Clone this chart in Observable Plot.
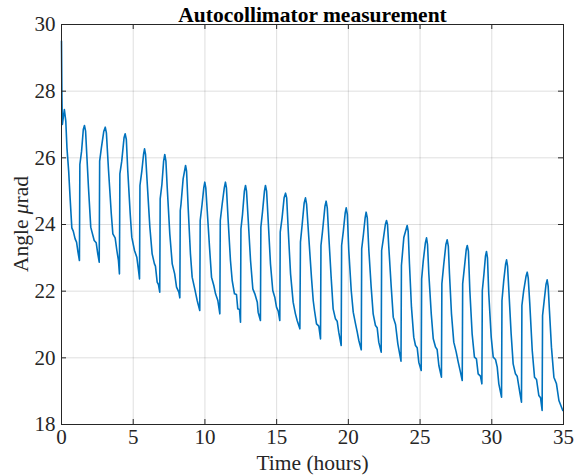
<!DOCTYPE html>
<html>
<head>
<meta charset="utf-8">
<script src="https://cdn.jsdelivr.net/npm/d3@7"></script>
<script src="https://cdn.jsdelivr.net/npm/@observablehq/plot@0.6"></script>
<style>
  html, body { margin: 0; padding: 0; background: #fff; }
</style>
</head>
<body>
<div id="chart"></div>
<script>
const titleText = "Autocollimator measurement";
const xLabel = "Time (hours)";
const yLabelPrefix = "Angle ";
const yLabelSymbol = "\u03bc";
const yLabelUnit = "rad";
const xTicks = [0, 5, 10, 15, 20, 25, 30, 35];
const yTicks = [18, 20, 22, 24, 26, 28, 30];

const times = [
0, 0.03, 0.06, 0.12, 0.2, 0.3, 0.38, 0.5, 0.6, 0.72, 0.82, 0.95, 1.05, 1.15, 1.25,
1.28, 1.4, 1.52, 1.6, 1.68, 1.76, 1.88, 2.04, 2.11, 2.28, 2.42, 2.53, 2.63,
2.66, 2.78, 2.95, 3.05, 3.13, 3.28, 3.47, 3.58, 3.74, 3.86, 3.97, 4.04,
4.07, 4.2, 4.36, 4.44, 4.52, 4.62, 4.79, 4.9, 5.09, 5.25, 5.37, 5.44,
5.47, 5.6, 5.72, 5.79, 5.86, 5.98, 6.16, 6.32, 6.48, 6.55, 6.67, 6.76, 6.85,
6.88, 7.0, 7.12, 7.2, 7.28, 7.37, 7.55, 7.72, 7.89, 8.02, 8.18, 8.25,
8.28, 8.33, 8.48, 8.65, 8.72, 8.83, 8.99, 9.11, 9.29, 9.46, 9.64,
9.67, 9.8, 9.92, 9.99, 10.06, 10.16, 10.32, 10.46, 10.62, 10.74, 10.9, 11.04,
11.07, 11.2, 11.35, 11.43, 11.5, 11.62, 11.78, 11.9, 12.06, 12.2, 12.29, 12.41, 12.48,
12.51, 12.62, 12.75, 12.83, 12.9, 13.02, 13.18, 13.34, 13.48, 13.65, 13.71, 13.87,
13.9, 14.02, 14.15, 14.22, 14.3, 14.41, 14.57, 14.73, 14.87, 14.99, 15.11, 15.22,
15.25, 15.38, 15.52, 15.62, 15.7, 15.81, 15.97, 16.15, 16.31, 16.43, 16.62,
16.66, 16.78, 16.92, 17.01, 17.09, 17.24, 17.43, 17.55, 17.64, 17.78, 17.94, 18.06,
18.09, 18.2, 18.37, 18.45, 18.53, 18.64, 18.8, 18.94, 19.1, 19.22, 19.33, 19.5,
19.53, 19.65, 19.78, 19.85, 19.93, 20.03, 20.2, 20.34, 20.5, 20.62, 20.73, 20.9,
20.93, 21.05, 21.17, 21.24, 21.32, 21.43, 21.59, 21.73, 21.89, 22.01, 22.12, 22.29,
22.32, 22.45, 22.58, 22.66, 22.73, 22.82, 22.99, 23.13, 23.29, 23.45, 23.67,
23.7, 23.87, 24.1, 24.17, 24.26, 24.4, 24.56, 24.68, 24.8, 24.91, 25.08,
25.11, 25.22, 25.37, 25.45, 25.52, 25.61, 25.78, 25.92, 26.08, 26.19, 26.31, 26.49,
26.52, 26.65, 26.8, 26.89, 26.97, 27.05, 27.19, 27.35, 27.52, 27.66, 27.8, 27.94,
27.97, 28.1, 28.22, 28.29, 28.37, 28.47, 28.63, 28.79, 28.93, 29.05, 29.21, 29.31,
29.34, 29.45, 29.56, 29.63, 29.7, 29.79, 29.96, 30.1, 30.26, 30.38, 30.49, 30.68,
30.71, 30.83, 30.96, 31.03, 31.1, 31.19, 31.35, 31.49, 31.65, 31.77, 31.95, 32.07,
32.1, 32.22, 32.39, 32.47, 32.54, 32.65, 32.82, 32.98, 33.12, 33.28, 33.4, 33.51,
33.54, 33.65, 33.78, 33.86, 33.93, 34.02, 34.16, 34.33, 34.51, 34.68, 34.95
];

const angles = [
29.5, 27.8, 27.0, 27.2, 27.45, 27.1, 26.3, 25.6, 24.8, 23.9, 23.8, 23.57, 23.47, 23.17, 22.92,
25.8, 26.2, 26.85, 26.97, 26.8, 26.12, 25.12, 23.92, 23.8, 23.52, 23.45, 23.12, 22.87,
25.9, 26.3, 26.8, 26.92, 26.75, 25.62, 24.33, 23.72, 23.6, 23.22, 22.92, 22.52,
25.52, 25.9, 26.6, 26.72, 26.55, 25.62, 24.32, 23.62, 23.22, 23.02, 22.62, 22.37,
25.17, 25.6, 26.1, 26.27, 26.1, 25.22, 23.92, 23.12, 22.82, 22.75, 22.27, 22.2, 21.97,
24.77, 25.2, 25.9, 26.1, 25.9, 25.12, 23.72, 22.82, 22.52, 22.12, 21.97, 21.8,
24.42, 24.6, 25.37, 25.77, 25.6, 24.52, 23.12, 22.42, 22.07, 21.72, 21.42,
24.12, 24.6, 25.1, 25.27, 25.1, 24.42, 23.32, 22.42, 22.17, 21.92, 21.72, 21.32,
24.12, 24.6, 25.1, 25.27, 25.1, 24.12, 22.92, 22.32, 21.92, 21.9, 21.47, 21.45, 21.07,
23.87, 24.3, 25.0, 25.17, 25.0, 24.12, 22.92, 22.07, 21.92, 21.67, 21.37, 21.12,
23.92, 24.4, 25.0, 25.17, 25.0, 24.12, 22.82, 22.02, 21.82, 21.52, 21.4, 21.12,
23.77, 24.2, 24.8, 24.94, 24.8, 23.82, 22.52, 21.67, 21.32, 21.12, 20.87,
23.47, 24.0, 24.65, 24.8, 24.6, 23.62, 22.4, 21.72, 21.42, 21.02, 20.95, 20.57,
23.37, 23.8, 24.55, 24.7, 24.5, 23.62, 22.42, 21.47, 21.17, 21.1, 20.77, 20.37,
23.37, 23.8, 24.35, 24.5, 24.3, 23.22, 22.02, 21.37, 21.02, 20.77, 20.52, 20.24,
23.27, 23.7, 24.2, 24.37, 24.2, 23.22, 22.12, 21.32, 20.97, 20.9, 20.47, 20.17,
23.22, 23.6, 24.0, 24.12, 24.0, 23.32, 22.12, 21.22, 21.0, 20.42, 19.9,
22.77, 23.62, 23.97, 23.8, 22.82, 21.52, 20.62, 20.37, 20.3, 19.87, 19.62,
22.37, 22.9, 23.45, 23.6, 23.4, 22.52, 21.32, 20.57, 20.32, 20.25, 19.77, 19.42,
22.22, 22.8, 23.4, 23.54, 23.35, 22.52, 21.32, 20.47, 20.17, 19.87, 19.6, 19.32,
22.22, 22.75, 23.25, 23.37, 23.2, 22.02, 20.72, 20.02, 19.97, 19.52, 19.45, 19.22,
22.02, 22.5, 23.05, 23.19, 23.0, 21.92, 20.62, 20.02, 19.95, 19.72, 19.22, 18.82,
21.72, 22.3, 22.8, 22.94, 22.75, 22.02, 20.72, 19.82, 19.52, 19.45, 18.97, 18.67,
21.57, 22.0, 22.45, 22.57, 22.4, 21.62, 20.22, 19.42, 19.35, 18.87, 18.8, 18.42,
21.27, 21.7, 22.2, 22.34, 22.15, 21.42, 20.32, 19.42, 19.22, 18.72, 18.42
];

const n = Math.min(times.length, angles.length);
const data = d3.range(n).map(i => ({t: times[i], v: angles[i]}));

const W = 574, H = 476;
const mL = 61, mR = 11, mT = 24, mB = 52;
const innerW = W - mL - mR, innerH = H - mT - mB;
const tickLen = 5;
const axisColor = "#262626";
const font = "'Liberation Serif', 'Times New Roman', serif";

const svg = Plot.plot({
  width: W,
  height: H,
  marginLeft: mL,
  marginRight: mR,
  marginTop: mT,
  marginBottom: mB,
  style: {fontFamily: font, fontSize: "21px", color: axisColor, background: "#fff"},
  x: {domain: [0, 35]},
  y: {domain: [18, 30]},
  marks: [
    Plot.gridX(xTicks, {stroke: "#000", strokeOpacity: 0.13, strokeWidth: 1}),
    Plot.gridY(yTicks, {stroke: "#000", strokeOpacity: 0.13, strokeWidth: 1}),
    Plot.line(data, {x: "t", y: "v", stroke: "#0072BD", strokeWidth: 1.6}),
    Plot.ruleX(xTicks, {stroke: axisColor, insetTop: innerH - tickLen}),
    Plot.ruleX(xTicks, {stroke: axisColor, insetBottom: innerH - tickLen}),
    Plot.ruleY(yTicks, {stroke: axisColor, insetRight: innerW - tickLen}),
    Plot.ruleY(yTicks, {stroke: axisColor, insetLeft: innerW - tickLen}),
    Plot.frame({stroke: axisColor, strokeWidth: 1}),
    Plot.axisX(xTicks, {tickSize: 0, tickPadding: 5, label: null, fontSize: 21, fill: axisColor}),
    Plot.axisY(yTicks, {tickSize: 0, tickPadding: 6, label: null, fontSize: 21, fill: axisColor}),
    Plot.text([titleText], {frameAnchor: "top", lineAnchor: "bottom", dy: -3, fontWeight: "bold", fontSize: 21.5, fill: "#000"}),
    Plot.text([xLabel], {frameAnchor: "bottom", lineAnchor: "middle", dy: 39, fontSize: 21.5, fill: axisColor})
  ]
});

const s = d3.select(svg);
const ylab = s.append("text")
  .attr("transform", `translate(28,${mT + innerH / 2}) rotate(-90)`)
  .attr("text-anchor", "middle")
  .attr("fill", axisColor)
  .style("font-family", font)
  .style("font-size", "21.5px");
ylab.append("tspan").text(yLabelPrefix);
ylab.append("tspan").style("font-style", "italic").text(yLabelSymbol);
ylab.append("tspan").text(yLabelUnit);

document.getElementById("chart").appendChild(svg);
</script>
</body>
</html>
